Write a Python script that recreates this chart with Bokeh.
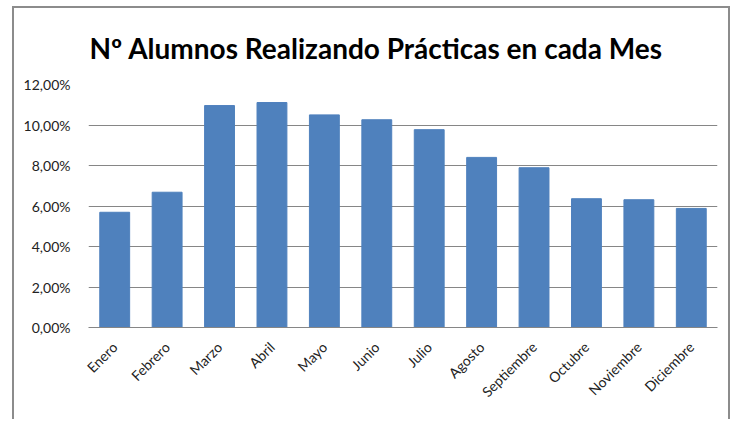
from bokeh.plotting import figure
from bokeh.models import ColumnDataSource, Range1d, FixedTicker
from bokeh.embed import file_html
from bokeh.resources import INLINE

meses = ["Enero", "Febrero", "Marzo", "Abril", "Mayo", "Junio", "Julio",
         "Agosto", "Septiembre", "Octubre", "Noviembre", "Diciembre"]
porcentajes = [5.69, 6.68, 10.96, 11.11, 10.50, 10.26, 9.77, 8.40, 7.89,
               6.36, 6.31, 5.88]
y_ticks = [0, 2, 4, 6, 8, 10, 12]
y_tick_labels = ["0,00%", "2,00%", "4,00%", "6,00%", "8,00%", "10,00%", "12,00%"]
titulo = "Nº Alumnos Realizando Prácticas en cada Mes"

FONT = "Lato"
idx = list(range(len(meses)))

source = ColumnDataSource(dict(i=idx, valor=porcentajes))

p = figure(width=718, height=413, x_range=Range1d(-0.5, len(meses) - 0.5),
           y_range=Range1d(0, 12), output_backend="svg", toolbar_location=None,
           min_border_left=74, min_border_right=15, min_border_top=76,
           min_border_bottom=94, background_fill_color="white",
           border_fill_color="white", title=titulo)
p.outline_line_color = None
p.styles = {"margin-left": "12px", "margin-top": "6px",
            "border-left": "2px solid #8c8c8c",
            "border-right": "2px solid #8c8c8c",
            "border-top": "2px solid #8c8c8c"}

p.title.text_font = FONT
p.title.text_font_style = "bold"
p.title.text_font_size = "28px"
p.title.text_color = "#000000"
p.title.align = "left"
p.title.offset = 1
p.title.standoff = 40

p.vbar(x="i", top="valor", width=0.57, source=source,
       fill_color="#4F81BD", line_color="#4F81BD")

# y axis
p.yaxis.ticker = FixedTicker(ticks=y_ticks)
p.yaxis.major_label_overrides = {t: l for t, l in zip(y_ticks, y_tick_labels)}
p.yaxis.axis_line_color = None
p.yaxis.major_tick_line_color = None
p.yaxis.minor_tick_line_color = None
p.yaxis.major_label_standoff = 12
p.yaxis.major_label_text_font = FONT
p.yaxis.major_label_text_font_size = "14px"
p.yaxis.major_label_text_color = "#222222"
p.ygrid.ticker = FixedTicker(ticks=y_ticks)
p.ygrid.grid_line_color = "#868686"
p.ygrid.grid_line_width = 1

# x axis
p.xaxis.ticker = FixedTicker(ticks=idx)
p.xaxis.major_label_overrides = {i: m for i, m in zip(idx, meses)}
p.xaxis.axis_line_color = "#868686"
p.xaxis.major_tick_line_color = None
p.xaxis.minor_tick_line_color = None
p.xaxis.major_label_orientation = 0.785398
p.xaxis.major_label_standoff = 11
p.xaxis.major_label_text_font = FONT
p.xaxis.major_label_text_font_size = "14px"
p.xaxis.major_label_text_color = "#222222"
p.xgrid.grid_line_color = None

open("out.html", "w").write(file_html(p, INLINE))
